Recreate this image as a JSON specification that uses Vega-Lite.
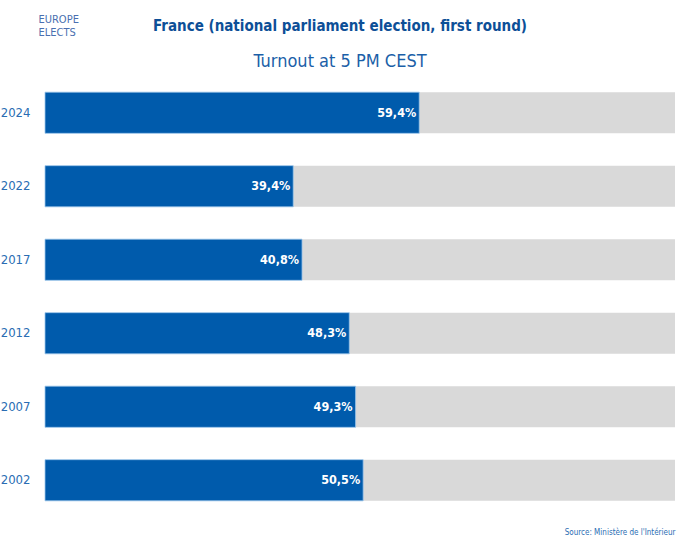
{
  "$schema": "https://vega.github.io/schema/vega-lite/v6.json",
  "width": 630,
  "height": 441,
  "autosize": "none",
  "padding": {"left": 45, "top": 76, "right": 5, "bottom": 27},
  "background": "white",
  "title": {
    "text": "France (national parliament election, first round)",
    "subtitle": "Turnout at 5 PM CEST",
    "anchor": "middle",
    "dx": -20,
    "offset": -58,
    "font": "DejaVu Sans Condensed",
    "fontSize": 15,
    "fontWeight": "bold",
    "color": "#0d4f97",
    "subtitleFont": "DejaVu Sans Condensed",
    "subtitleFontSize": 18,
    "subtitleColor": "#1b5fa8",
    "subtitlePadding": 19
  },
  "data": {
    "values": [
      {"year": "2024", "turnout": 0.594},
      {"year": "2022", "turnout": 0.394},
      {"year": "2017", "turnout": 0.408},
      {"year": "2012", "turnout": 0.483},
      {"year": "2007", "turnout": 0.493},
      {"year": "2002", "turnout": 0.505}
    ]
  },
  "encoding": {
    "y": {
      "field": "year",
      "type": "nominal",
      "sort": null,
      "title": ["EUROPE", "ELECTS"],
      "scale": {"paddingInner": 0.44, "paddingOuter": 0.22},
      "axis": {
        "domain": false,
        "ticks": false,
        "labelPadding": 15,
        "labelAlign": "right",
        "labelFont": "DejaVu Sans Condensed",
        "labelFontSize": 13,
        "labelColor": "#2a6db3",
        "titleAngle": 0,
        "titleAlign": "left",
        "titleBaseline": "top",
        "titleX": -7,
        "titleY": -63,
        "titleFont": "DejaVu Sans Condensed",
        "titleFontSize": 11,
        "titleFontWeight": "normal",
        "titleLineHeight": 13,
        "titleColor": "#4a6fb0"
      }
    }
  },
  "layer": [
    {
      "mark": {"type": "bar", "color": "#d9d9d9"},
      "encoding": {
        "x": {
          "datum": 1,
          "type": "quantitative",
          "scale": {"domain": [0, 1]},
          "title": "Source: Ministère de l'Intérieur",
          "axis": {
            "domain": false,
            "ticks": false,
            "labels": false,
            "grid": false,
            "titleAnchor": "end",
            "titleAlign": "right",
            "titleFont": "DejaVu Sans Condensed",
            "titleFontSize": 8,
            "titleFontWeight": "normal",
            "titleColor": "#2a6db3",
            "titlePadding": 11
          }
        }
      }
    },
    {
      "mark": {"type": "bar", "color": "#005bac", "stroke": "#9cc6ec", "strokeWidth": 0.8},
      "encoding": {
        "x": {"field": "turnout", "type": "quantitative", "title": "Source: Ministère de l'Intérieur"}
      }
    },
    {
      "mark": {
        "type": "text",
        "align": "right",
        "dx": -3,
        "color": "white",
        "font": "DejaVu Sans Condensed",
        "fontSize": 12.5,
        "fontWeight": "bold"
      },
      "encoding": {
        "x": {"field": "turnout", "type": "quantitative", "title": "Source: Ministère de l'Intérieur"},
        "text": {"field": "turnout", "type": "quantitative", "format": ".1%"}
      }
    }
  ],
  "config": {
    "view": {"stroke": null},
    "locale": {
      "number": {
        "decimal": ",",
        "thousands": ".",
        "grouping": [3],
        "currency": ["", " €"]
      }
    }
  }
}
